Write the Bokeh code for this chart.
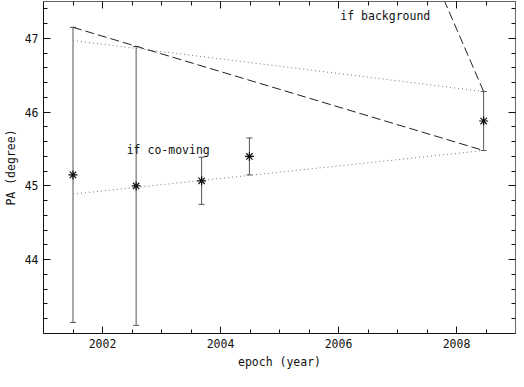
from bokeh.plotting import figure
from bokeh.models import ColumnDataSource, Whisker, TeeHead, FixedTicker, LinearAxis, Label, Range1d
from bokeh.embed import file_html
from bokeh.resources import INLINE

# data
epoch = [2001.50, 2002.57, 2003.68, 2004.49, 2008.46]
pa = [45.15, 45.00, 45.07, 45.40, 45.88]
pa_err = [2.00, 1.89, 0.32, 0.25, 0.40]

comoving_lo_x = [2001.50, 2008.46]
comoving_lo_y = [44.89, 45.48]
comoving_hi_x = [2001.50, 2008.46]
comoving_hi_y = [46.97, 46.28]

background_a_x = [2001.50, 2008.46]
background_a_y = [47.15, 45.48]
background_b_x = [2008.46, 2007.60]
background_b_y = [46.28, 47.87]

x_ticks = [2002, 2004, 2006, 2008]
x_minor = [2001.5 + 0.5 * i for i in range(16)]
y_ticks = [44, 45, 46, 47]
y_minor = [43.2 + 0.2 * i for i in range(22)]

FONT = "DejaVu Sans Mono"

p = figure(width=516, height=371, output_backend="svg", toolbar_location=None,
           x_range=Range1d(2001, 2009), y_range=Range1d(43, 47.5),
           min_border_left=35, min_border_right=1, min_border_top=1, min_border_bottom=20)
p.grid.visible = False
p.outline_line_color = "#666666"
p.background_fill_color = "white"
p.border_fill_color = "white"

lower = [v - e for v, e in zip(pa, pa_err)]
upper = [v + e for v, e in zip(pa, pa_err)]
src = ColumnDataSource(dict(x=epoch, y=pa, lo=lower, hi=upper))

p.line(comoving_lo_x, comoving_lo_y, line_color="#777777", line_dash="1 3", line_width=1)
p.line(comoving_hi_x, comoving_hi_y, line_color="#777777", line_dash="1 3", line_width=1)
p.line(background_a_x, background_a_y, line_color="#222222", line_dash="9 4", line_width=1)
p.line(background_b_x, background_b_y, line_color="#222222", line_dash="9 4", line_width=1)

w = Whisker(base="x", lower="lo", upper="hi", source=src, line_color="#555555", line_width=1,
            upper_head=TeeHead(size=6, line_color="#555555"),
            lower_head=TeeHead(size=6, line_color="#555555"))
p.add_layout(w)
p.scatter("x", "y", source=src, marker="asterisk", size=9, line_color="#111111", line_width=1.2)

p.add_layout(Label(x=2006.03, y=47.30, text="if background", text_font=FONT,
                   text_font_size="11.5px", text_baseline="middle", text_color="#111111"))
p.add_layout(Label(x=2002.41, y=45.49, text="if co-moving", text_font=FONT,
                   text_font_size="11.5px", text_baseline="middle", text_color="#111111"))

def style(ax, ticks, minor):
    ax.ticker = FixedTicker(ticks=ticks, minor_ticks=minor)
    ax.major_tick_in = 7
    ax.major_tick_out = 0
    ax.minor_tick_in = 4
    ax.minor_tick_out = 0
    ax.major_tick_line_color = "#111111"
    ax.minor_tick_line_color = "#111111"
    ax.axis_line_color = "#111111"
    ax.major_label_text_font = FONT
    ax.major_label_text_font_size = "11.5px"
    ax.major_label_text_color = "#111111"
    ax.major_label_standoff = 5
    ax.axis_label_text_font = FONT
    ax.axis_label_text_font_size = "11.5px"
    ax.axis_label_text_font_style = "normal"
    ax.axis_label_text_color = "#111111"
    ax.axis_label_standoff = 4

style(p.xaxis[0], x_ticks, x_minor)
style(p.yaxis[0], y_ticks, y_minor)
p.xaxis[0].axis_label = "epoch (year)"
p.yaxis[0].axis_label = "PA (degree)"
p.yaxis[0].major_label_orientation = "horizontal"

top = LinearAxis()
right = LinearAxis()
style(top, x_ticks, x_minor)
style(right, y_ticks, y_minor)
top.major_label_overrides = {t: "" for t in x_ticks}
right.major_label_overrides = {t: "" for t in y_ticks}
for ax in (top, right):
    ax.major_label_standoff = 0
    ax.axis_line_color = "#666666"
p.add_layout(top, "above")
p.add_layout(right, "right")

open("out.html", "w").write(file_html(p, INLINE))
